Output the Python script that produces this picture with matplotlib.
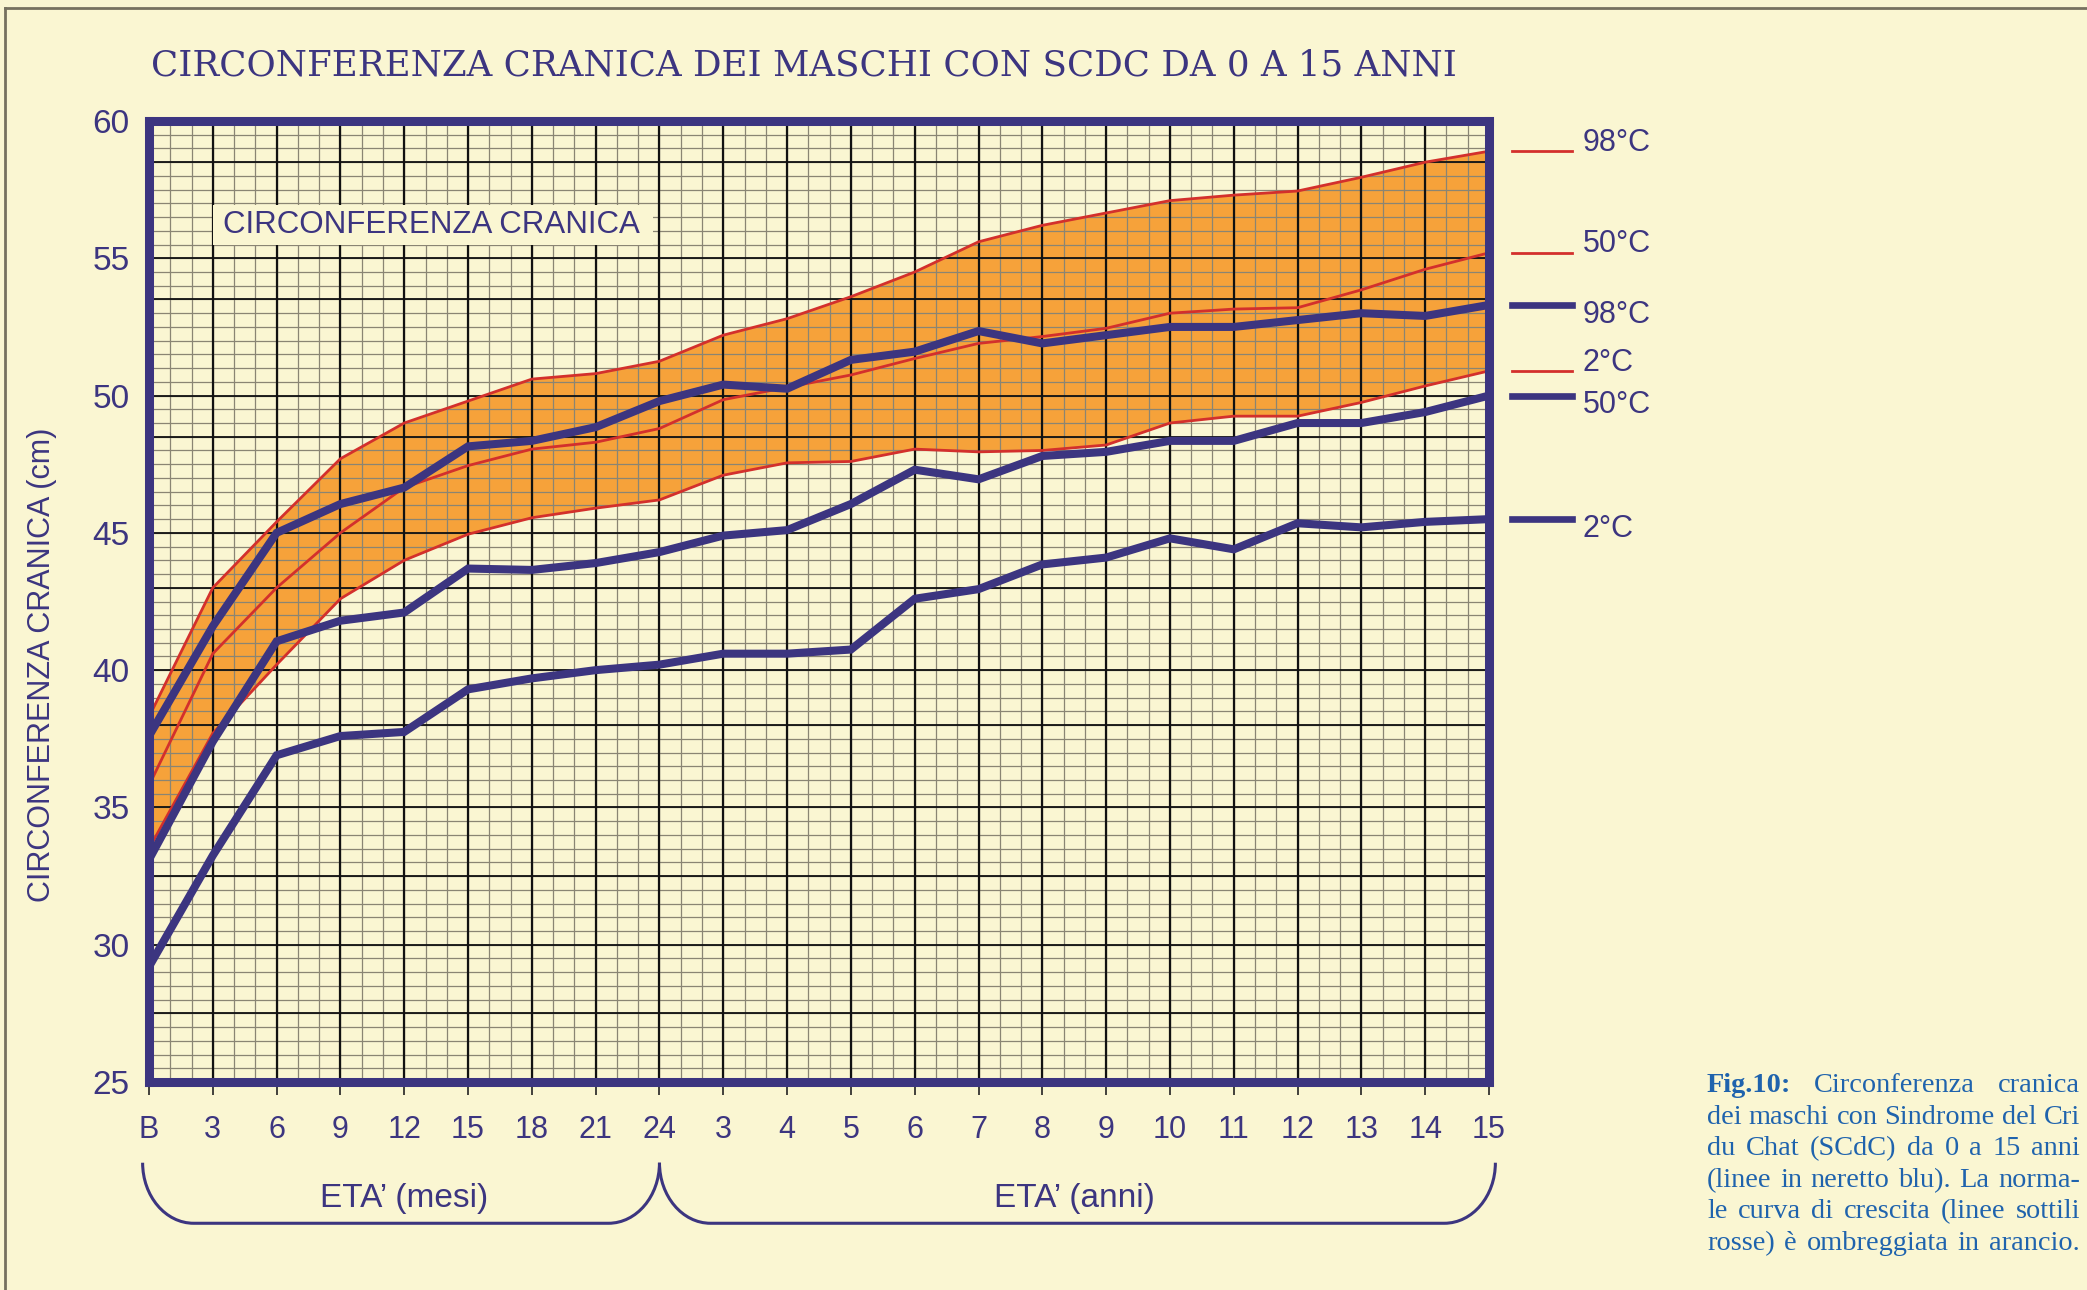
import numpy as np
import matplotlib
matplotlib.use("Agg")
import matplotlib.pyplot as plt
from matplotlib.path import Path
from matplotlib.patches import PathPatch, Rectangle
from matplotlib.lines import Line2D
import matplotlib.transforms as mtransforms

# ---- data ----
age_labels = ["B", "3", "6", "9", "12", "15", "18", "21", "24",
              "3", "4", "5", "6", "7", "8", "9", "10", "11", "12", "13", "14", "15"]

# normal growth curve (thin red lines)
norm_98 = [38.3, 43.0, 45.4, 47.7, 49.0, 49.8, 50.6, 50.8, 51.25, 52.2, 52.8, 53.6,
           54.5, 55.6, 56.2, 56.65, 57.1, 57.3, 57.45, 57.95, 58.5, 58.9]
norm_50 = [35.8, 40.6, 43.0, 45.0, 46.65, 47.45, 48.05, 48.3, 48.8, 49.85, 50.3, 50.75,
           51.35, 51.9, 52.15, 52.45, 53.0, 53.15, 53.2, 53.85, 54.6, 55.2]
norm_2 = [33.5, 37.7, 40.2, 42.6, 44.0, 44.95, 45.55, 45.9, 46.2, 47.1, 47.55, 47.6,
          48.05, 47.95, 48.0, 48.2, 49.0, 49.25, 49.25, 49.75, 50.35, 50.9]

# SCdC boys (bold blue lines)
scdc_98 = [37.6, 41.6, 45.0, 46.05, 46.65, 48.15, 48.35, 48.85, 49.8, 50.4, 50.25, 51.3,
           51.6, 52.35, 51.9, 52.2, 52.5, 52.5, 52.75, 53.0, 52.9, 53.3]
scdc_50 = [33.1, 37.4, 41.05, 41.8, 42.1, 43.7, 43.65, 43.9, 44.3, 44.9, 45.1, 46.05,
           47.3, 46.95, 47.8, 47.95, 48.35, 48.35, 49.0, 49.0, 49.4, 50.0]
scdc_2 = [29.2, 33.25, 36.9, 37.6, 37.75, 39.3, 39.7, 40.0, 40.2, 40.6, 40.6, 40.75,
          42.6, 42.95, 43.85, 44.1, 44.8, 44.4, 45.35, 45.2, 45.4, 45.5]

legend_labels = ["98°C", "50°C", "2°C"]

TITLE = "CIRCONFERENZA CRANICA DEI MASCHI CON SCDC DA 0 A 15 ANNI"
caption_lines = [
    "Fig.10: Circonferenza cranica",
    "dei maschi con Sindrome del Cri",
    "du Chat (SCdC) da 0 a 15 anni",
    "(linee in neretto blu). La norma-",
    "le curva di crescita (linee sottili",
    "rosse) è ombreggiata in arancio.",
]

# ---- style ----
BG = "#faf6d2"
BLUE = "#3c3580"
RED = "#d3302c"
ORANGE = "#f6a23a"
CAPBLUE = "#1f63ad"
W, H = 2087, 1290
SANS = ["Liberation Sans", "DejaVu Sans"]
NARROW = ["Liberation Sans Narrow", "Liberation Sans", "DejaVu Sans"]
SERIF = ["Liberation Serif", "DejaVu Serif"]

x = np.arange(len(age_labels))

fig = plt.figure(figsize=(W / 100, H / 100), dpi=100, facecolor=BG)
renderer = fig.canvas.get_renderer()
ax = fig.add_axes([149 / W, (H - 1082) / H, 1340 / W, 961 / H])
ax.set_facecolor(BG)
ax.set_xlim(0, 21)
ax.set_ylim(25, 60)

# outer page frame (top and left)
fig.add_artist(Line2D([5 / W, 1], [1 - 8 / H, 1 - 8 / H], color="#76715f", lw=2))
fig.add_artist(Line2D([5 / W, 5 / W], [0, 1 - 8 / H], color="#76715f", lw=2))

# graph-paper grid
ax.vlines(np.arange(0, 21, 1 / 3), 25, 60, color="#8a8573", lw=0.9, zorder=2)
ax.hlines(np.arange(25, 60, 0.5), 0, 21, color="#8a8573", lw=0.9, zorder=2)
ax.vlines(np.arange(1, 21), 25, 60, color="#111111", lw=1.6, zorder=2.2)
ax.hlines(list(range(30, 60, 5)) + [58.5, 53.5, 48.5, 43.0, 38.0, 32.5, 27.5], 0, 21,
          color="#111111", lw=1.3, zorder=2.2)

# orange band of the normal curve
ax.fill_between(x, norm_2, norm_98, color=ORANGE, lw=0, zorder=1.5)

for s in (norm_98, norm_50, norm_2):
    ax.plot(x, s, color=RED, lw=2.0, zorder=4)
for s in (scdc_98, scdc_50, scdc_2):
    ax.plot(x, s, color=BLUE, lw=5.8, zorder=5, solid_joinstyle="miter")

# inner label with cream box
ax.add_patch(Rectangle((1.0, 55.5), 6.9, 1.45, facecolor=BG, edgecolor="none", zorder=3))
ax.text(4.42, 56.22, "CIRCONFERENZA CRANICA", family=SANS, fontsize=22.5,
        color=BLUE, ha="center", va="center", zorder=3.5)

# frame and ticks
for sp in ax.spines.values():
    sp.set_color(BLUE)
    sp.set_linewidth(6.5)
    sp.set_zorder(6)
ax.set_xticks(x)
ax.set_xticklabels(age_labels, family=NARROW, fontsize=22, color=BLUE)
ax.set_yticks(range(25, 61, 5))
ax.set_yticklabels([str(v) for v in range(25, 61, 5)], family=SANS, fontsize=24, color=BLUE)
ax.tick_params(axis="x", direction="out", length=9, width=1.2, color="#222222", pad=15)
ax.tick_params(axis="y", length=0, pad=14)
ax.set_ylabel("CIRCONFERENZA CRANICA (cm)", family=SANS, fontsize=22, color=BLUE)
ax.yaxis.set_label_coords(-0.069, 0.434)

# right-hand labels at the curve ends
trans = mtransforms.blended_transform_factory(ax.transAxes, ax.transData)
for s, lab in zip((norm_98, norm_50, norm_2), legend_labels):
    ax.add_line(Line2D([1.017, 1.062], [s[-1], s[-1]], transform=trans, color=RED,
                       lw=2.0, clip_on=False))
    ax.annotate(lab, xy=(1.070, s[-1]), xycoords=trans, xytext=(0, 6),
                textcoords="offset points", family=SANS, fontsize=22, color=BLUE,
                va="center", ha="left", annotation_clip=False)
for s, lab in zip((scdc_98, scdc_50, scdc_2), legend_labels):
    ax.add_line(Line2D([1.017, 1.062], [s[-1], s[-1]], transform=trans, color=BLUE,
                       lw=4.8, clip_on=False))
    ax.annotate(lab, xy=(1.070, s[-1]), xycoords=trans, xytext=(0, -7),
                textcoords="offset points", family=SANS, fontsize=22, color=BLUE,
                va="center", ha="left", annotation_clip=False)

# age brackets under the x axis
btr = mtransforms.blended_transform_factory(ax.transData, ax.transAxes)
yt, yb = -0.084, -0.147
r = 0.8
k = 0.552


def bracket(x0, x1):
    verts = [(x0, yt), (x0, yt + k * (yb - yt)), (x0 + r * (1 - k), yb), (x0 + r, yb),
             (x1 - r, yb), (x1 - r * (1 - k), yb), (x1, yt + k * (yb - yt)), (x1, yt)]
    codes = [Path.MOVETO, Path.CURVE4, Path.CURVE4, Path.CURVE4,
             Path.LINETO, Path.CURVE4, Path.CURVE4, Path.CURVE4]
    ax.add_patch(PathPatch(Path(verts, codes), transform=btr, facecolor="none",
                           edgecolor=BLUE, lw=2.2, clip_on=False))


bracket(-0.1, 8)
bracket(8, 21.1)
ax.text(4.0, -0.121, "ETA’ (mesi)", transform=btr, family=NARROW, fontsize=24,
        color=BLUE, ha="center", va="center")
ax.text(14.5, -0.121, "ETA’ (anni)", transform=btr, family=NARROW, fontsize=24,
        color=BLUE, ha="center", va="center")

# title, fitted to its width
t = fig.text(151 / W, 1 - 65 / H, TITLE, family="DejaVu Serif", fontsize=30,
             color=BLUE, ha="left", va="center")
tw = t.get_window_extent(renderer).width
t.set_fontsize(30 * 1303 / tw)

# justified caption on the right
cap_left, cap_right = 1707, 2080
probe = fig.text(0, 0, caption_lines[1], family=SERIF, fontsize=18)
cap_size = 18 * (cap_right - cap_left) / probe.get_window_extent(renderer).width
probe.remove()
for li, line in enumerate(caption_lines):
    words = line.split(" ")
    arts = []
    for w in words:
        bold = w == "Fig.10:"
        a = fig.text(0, 1 - (1092 + li * 31.6) / H, w, family=SERIF,
                     fontsize=cap_size, color=CAPBLUE, va="baseline", ha="left",
                     fontweight="bold" if bold else "normal")
        arts.append(a)
    widths = [a.get_window_extent(renderer).width for a in arts]
    gap = (cap_right - cap_left - sum(widths)) / max(len(arts) - 1, 1)
    xp = cap_left
    for a, wd in zip(arts, widths):
        a.set_x(xp / W)
        xp += wd + gap

fig.savefig("out.png", dpi=100, facecolor=BG)
